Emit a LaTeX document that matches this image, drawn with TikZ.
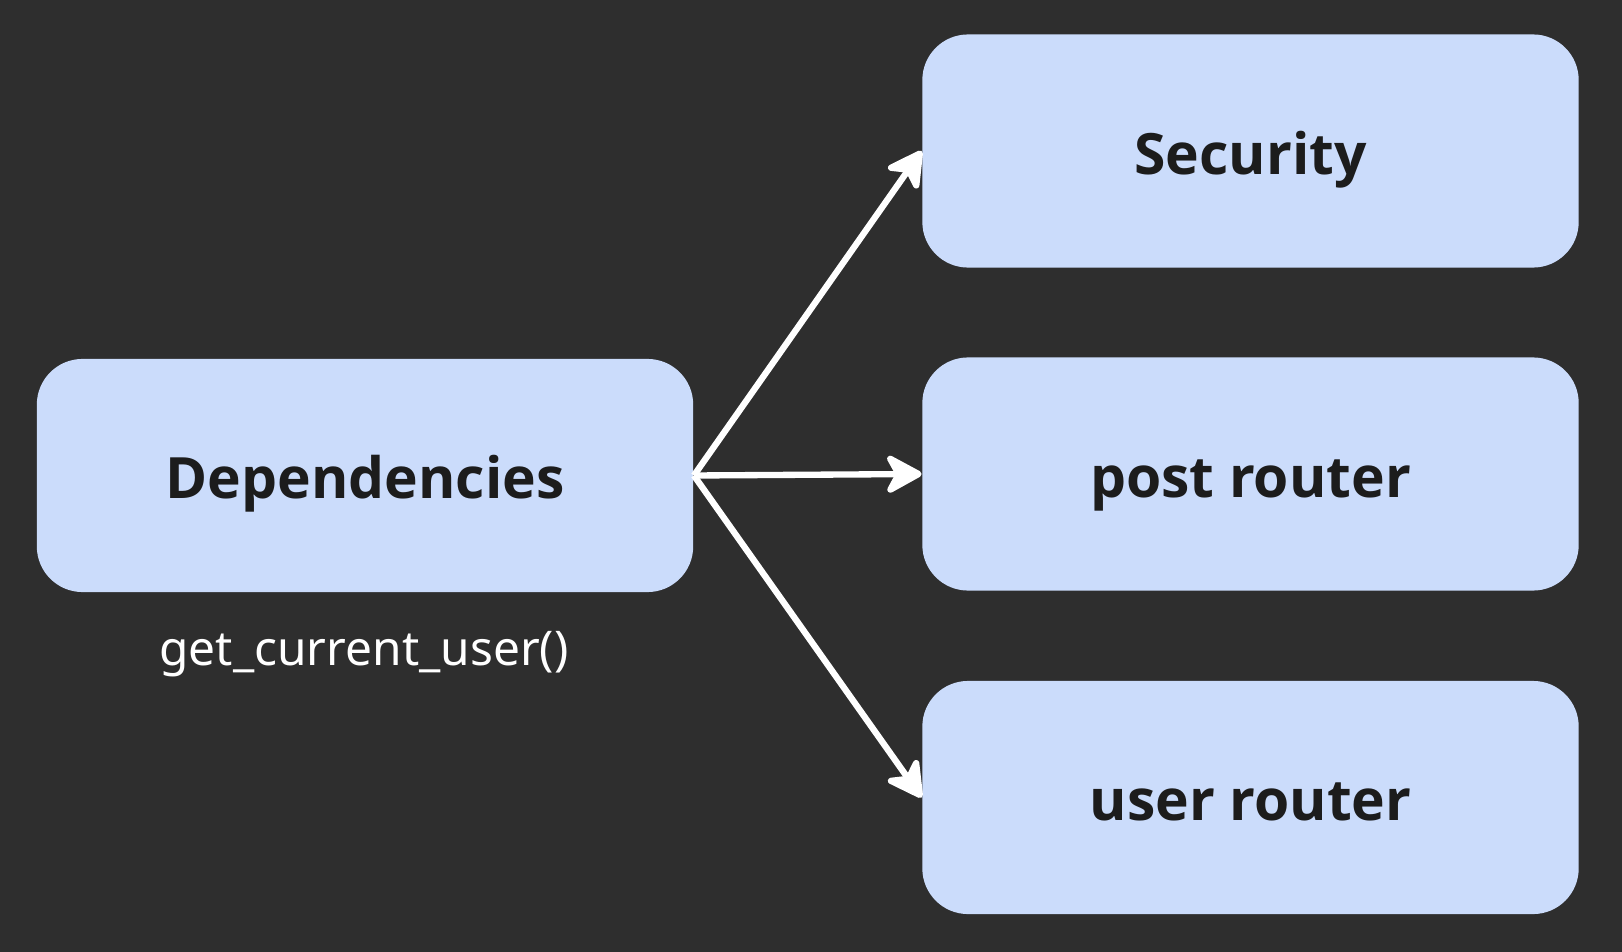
\documentclass[tikz,border=0pt]{standalone}
\usepackage{fontspec}
\setmainfont{Noto Sans}
\newfontfamily\boxfont{Open Sans}
\definecolor{bgdark}{HTML}{2E2E2E}
\definecolor{boxblue}{HTML}{CBDCFB}
\definecolor{inkdark}{HTML}{1C1C1C}
\usetikzlibrary{arrows.meta}

\begin{document}
\begin{tikzpicture}[x=0.01cm, y=-0.01cm,
    modbox/.style={fill=boxblue, rounded corners=13pt, minimum width=6.56cm,
      minimum height=2.33cm, inner sep=0pt, text=inkdark,
      text height=13.3pt, text depth=0pt,
      font=\boxfont\bfseries\fontsize{16.2}{19}\selectfont},
    link/.style={white, line width=1.8pt,
      -{Stealth[length=12pt, width=13pt, inset=3.5pt, round]}}]
        % Background
        \fill[bgdark] (0,0) rectangle (1622,952);
        \useasboundingbox (0,0) rectangle (1622,952);
        % Boxes
        \node[modbox] (deps) at (365,475.5) {Dependencies};
        \node[modbox] (security) at (1250.5,151) {Security};
        \node[modbox] (post) at (1250.5,474) {post router};
        \node[modbox] (user) at (1250.5,797.5) {user router};
        % Label under dependencies
        \node[white, font=\fontsize{13.6}{16}\selectfont] (getuser) at (364,654) {get\_current\_user()};
        % Arrows
        \draw[link] (deps.east) -- (security.west);
        \draw[link] (deps.east) -- (post.west);
        \draw[link] (deps.east) -- (user.west);
      \end{tikzpicture}
\end{document}
